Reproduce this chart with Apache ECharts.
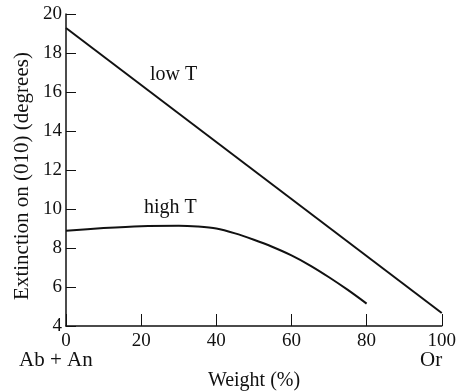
<!DOCTYPE html>
<html>
<head>
<meta charset="utf-8">
<script src="https://cdn.jsdelivr.net/npm/echarts@6/dist/echarts.min.js"></script>
<style>
  html, body { margin: 0; padding: 0; background: #fff; }
  #chart { width: 459px; height: 392px; }
</style>
</head>
<body>
<div id="chart"></div>
<script>
// weight (%) of Or
const lowTWeight = [0, 100]
const lowTValue = [19.28, 4.67]
const highTWeight = [0, 10, 20, 30, 35, 40, 45, 50, 55, 60, 65, 70, 75, 80]
const highTValue = [8.88, 9.02, 9.12, 9.14, 9.1, 9.0, 8.75, 8.42, 8.05, 7.62, 7.1, 6.5, 5.85, 5.15]

const serif = '"Liberation Serif", "DejaVu Serif", serif'

const chart = echarts.init(document.getElementById('chart'))
const option = {
  animation: false,
  grid: { left: 66, right: 16, top: 14, bottom: 66 },
  xAxis: {
    type: 'value',
    min: 0, max: 100, interval: 20,
    axisLine: { lineStyle: { color: '#111', width: 1.5 } },
    axisTick: { inside: true, length: 12, lineStyle: { color: '#111', width: 1 } },
    axisLabel: { fontFamily: serif, fontSize: 19, color: '#111', margin: 6 },
    splitLine: { show: false }
  },
  yAxis: {
    type: 'value',
    min: 4, max: 20, interval: 2,
    axisLine: { show: true, lineStyle: { color: '#111', width: 1.5 } },
    axisTick: { show: true, inside: true, length: 10, lineStyle: { color: '#111', width: 1 } },
    axisLabel: { fontFamily: serif, fontSize: 19, color: '#111', margin: 4 },
    splitLine: { show: false }
  },
  graphic: [
    { type: 'text', x: 22, y: 176, rotation: Math.PI / 2,
      style: { text: 'Extinction on (010) (degrees)', font: '21px ' + serif, fill: '#111', align: 'center', verticalAlign: 'middle' } },
    { type: 'text', x: 254, y: 381,
      style: { text: 'Weight (%)', font: '20px ' + serif, fill: '#111', align: 'center', verticalAlign: 'middle' } },
    { type: 'text', x: 150, y: 75, style: { text: 'low T', font: '20px ' + serif, fill: '#111', verticalAlign: 'middle' } },
    { type: 'text', x: 144, y: 208, style: { text: 'high T', font: '20px ' + serif, fill: '#111', verticalAlign: 'middle' } },
    { type: 'text', x: 19, y: 360, style: { text: 'Ab + An', font: '21px ' + serif, fill: '#111', verticalAlign: 'middle' } },
    { type: 'text', x: 420, y: 360, style: { text: 'Or', font: '21px ' + serif, fill: '#111', verticalAlign: 'middle' } }
  ],
  series: [
    {
      name: 'low T',
      type: 'line',
      data: lowTWeight.map((w, i) => [w, lowTValue[i]]),
      showSymbol: false,
      lineStyle: { color: '#111', width: 2 }
    },
    {
      name: 'high T',
      type: 'line',
      smooth: 0.3,
      data: highTWeight.map((w, i) => [w, highTValue[i]]),
      showSymbol: false,
      lineStyle: { color: '#111', width: 2 }
    }
  ]
}
chart.setOption(option)
</script>
</body>
</html>
